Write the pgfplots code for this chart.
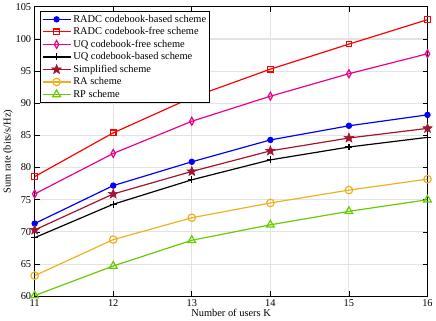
\documentclass[border=0pt]{standalone}
\usepackage{fontspec}
\setmainfont{Liberation Serif}
\usepackage{pgfplots}
\pgfplotsset{compat=1.18}

\definecolor{cmaroon}{RGB}{162,20,47}
\definecolor{corange}{RGB}{237,177,32}
\definecolor{cgreen}{RGB}{102,204,0}

% filled five-pointed star
\pgfdeclareplotmark{fstar}{%
  \pgfpathmoveto{\pgfqpointpolar{90}{\pgfplotmarksize}}%
  \pgfpathlineto{\pgfqpointpolar{126}{0.42\pgfplotmarksize}}%
  \pgfpathlineto{\pgfqpointpolar{162}{\pgfplotmarksize}}%
  \pgfpathlineto{\pgfqpointpolar{198}{0.42\pgfplotmarksize}}%
  \pgfpathlineto{\pgfqpointpolar{234}{\pgfplotmarksize}}%
  \pgfpathlineto{\pgfqpointpolar{270}{0.42\pgfplotmarksize}}%
  \pgfpathlineto{\pgfqpointpolar{306}{\pgfplotmarksize}}%
  \pgfpathlineto{\pgfqpointpolar{342}{0.42\pgfplotmarksize}}%
  \pgfpathlineto{\pgfqpointpolar{18}{\pgfplotmarksize}}%
  \pgfpathlineto{\pgfqpointpolar{54}{0.42\pgfplotmarksize}}%
  \pgfpathclose
  \pgfusepathqfillstroke
}

\begin{document}
\begin{tikzpicture}
\begin{axis}[
  scale only axis, width=395bp, height=291bp,
  xmin=11, xmax=16, ymin=60, ymax=105,
  xtick={11,...,16}, ytick={60,65,...,105},
  grid=major, grid style={gray!22, line width=1.1pt},
  axis line style={line width=1.1pt},
  tick style={black, line width=0.7pt}, tick align=inside,
  major tick length=5bp,
  font=\fontsize{10.5}{12}\selectfont,
  tick label style={font=\fontsize{10.5}{12}\selectfont},
  /pgf/number format/assume math mode=true,
  xlabel={Number of users K}, ylabel={Sum rate (bits/s/Hz)},
  xlabel style={yshift=4pt}, ylabel style={yshift=-4pt},
  legend style={draw=black, line width=1.3pt, fill=white, inner sep=1.5pt,
    font=\fontsize{10.5}{12}\selectfont, row sep=-0.2pt,
    at={(0.013,0.986)}, anchor=north west},
  legend cell align=left,
  legend image code/.code={%
    \draw[mark repeat=2,mark phase=2] plot coordinates {(0cm,0cm)(0.5cm,0cm)(1.0cm,0cm)};},
  every axis plot/.append style={line width=1.2pt},
]
\addplot[blue, mark=*, mark size=2.6pt] coordinates {(11,71.3)(12,77.2)(13,80.9)(14,84.3)(15,86.5)(16,88.2)};
\addlegendentry{RADC codebook-based scheme}
\addplot[red, mark=square, mark size=2.8pt] coordinates {(11,78.6)(12,85.4)(13,90.9)(14,95.3)(15,99.2)(16,103.0)};
\addlegendentry{RADC codebook-free scheme}
\addplot[magenta, mark=diamond, mark size=4pt, mark options={xscale=0.75}] coordinates {(11,75.9)(12,82.2)(13,87.2)(14,91.1)(15,94.6)(16,97.7)};
\addlegendentry{UQ codebook-free scheme}
\addplot[black, mark=+, mark size=3.5pt] coordinates {(11,69.1)(12,74.3)(13,78.1)(14,81.2)(15,83.2)(16,84.7)};
\addlegendentry{UQ codebook-based scheme}
\addplot[cmaroon, mark=fstar, mark size=5pt, mark options={fill=cmaroon, line width=0.6pt}] coordinates {(11,70.3)(12,75.9)(13,79.4)(14,82.6)(15,84.6)(16,86.1)};
\addlegendentry{Simplified scheme}
\addplot[corange, mark=o, mark size=3.8pt] coordinates {(11,63.2)(12,68.8)(13,72.2)(14,74.5)(15,76.5)(16,78.2)};
\addlegendentry{RA scheme}
\addplot[cgreen, mark=triangle, mark size=4.5pt] coordinates {(11,60.1)(12,64.7)(13,68.7)(14,71.1)(15,73.2)(16,75.0)};
\addlegendentry{RP scheme}
\end{axis}
\end{tikzpicture}
\end{document}
